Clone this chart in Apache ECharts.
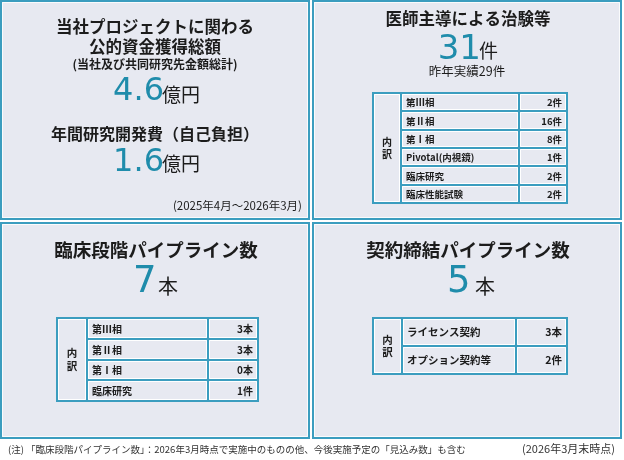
<!DOCTYPE html>
<html><head><meta charset="utf-8">
<script src="https://cdn.jsdelivr.net/npm/echarts@6/dist/echarts.min.js"></script>
<style>html,body{margin:0;padding:0;background:#fff}#c{width:624px;height:460px}</style>
</head><body><div id="c"></div>
<script>
// ---- data ----
const publicFunding = 4.6;            // 億円
const selfFundedRnD = 1.6;            // 億円
const periodLabel = '(2025年4月～2026年3月)';
const iitTotal = 31;                  // 件
const iitPrevYear = 29;               // 件
const iitCategories = ['第Ⅲ相', '第Ⅱ相', '第Ⅰ相', 'Pivotal(内視鏡)', '臨床研究', '臨床性能試験'];
const iitCounts = [2, 16, 8, 1, 2, 2];
const iitUnits = ['件', '件', '件', '件', '件', '件'];
const clinicalTotal = 7;              // 本
const clinicalCategories = ['第Ⅲ相', '第Ⅱ相', '第Ⅰ相', '臨床研究'];
const clinicalCounts = [3, 3, 0, 1];
const clinicalUnits = ['本', '本', '本', '件'];
const contractTotal = 5;              // 本
const contractCategories = ['ライセンス契約', 'オプション契約等'];
const contractCounts = [3, 2];
const contractUnits = ['本', '件'];
const footnote = '(注) 「臨床段階パイプライン数」：2026年3月時点で実施中のものの他、今後実施予定の「見込み数」も含む';
const asOfLabel = '(2026年3月末時点)';

// ---- styling ----
const TEAL = '#3b9dbf';
const NUM = '#1f8cab';
const PANEL = '#e7e9f1';
const INK = '#1c1c1c';
const FONT = "'Noto Sans CJK JP', 'Noto Sans CJK SC', sans-serif";
const NUMFONT = "'DejaVu Sans', sans-serif";

function txt(x, y, text, size, o) {
  o = o || {};
  return {
    type: 'text', x: x, y: y, z: 10, silent: true,
    style: {
      text: text, fontSize: size, fontFamily: o.family || FONT,
      fontWeight: o.weight || 'normal', fill: o.fill || INK,
      align: o.align || 'center', verticalAlign: 'middle',
      lineHeight: o.lineHeight
    }
  };
}
function panel(x, y, w, h) {
  return [
    { type: 'rect', z: 0, silent: true, shape: { x: x, y: y, width: w, height: h },
      style: { fill: PANEL, stroke: TEAL, lineWidth: 2 } },
    { type: 'rect', z: 1, silent: true, shape: { x: x + 1.5, y: y + 1.5, width: w - 3, height: h - 3 },
      style: { fill: 'none', stroke: '#ffffff', lineWidth: 1, opacity: 0.8 } }
  ];
}
function whiteCell(x, y, w, h) {
  return { type: 'rect', z: 3, silent: true,
    shape: { x: x + 1.5, y: y + 1.5, width: w - 3, height: h - 3 },
    style: { fill: 'none', stroke: '#ffffff', lineWidth: 1 } };
}
function table(x, top, wHead, wLabel, wValue, rowH, labels, counts, units, fs, headFs) {
  const els = [];
  const n = labels.length, h = rowH * n, W = wHead + wLabel + wValue;
  els.push({ type: 'rect', z: 2, silent: true, shape: { x: x, y: top, width: W, height: h },
    style: { fill: 'none', stroke: TEAL, lineWidth: 2 } });
  [x + wHead, x + wHead + wLabel].forEach(function (vx) {
    els.push({ type: 'line', z: 2, silent: true, shape: { x1: vx, y1: top, x2: vx, y2: top + h },
      style: { stroke: TEAL, lineWidth: 2 } });
  });
  for (let i = 1; i < n; i++) {
    const yy = top + Math.round(i * rowH);
    els.push({ type: 'line', z: 2, silent: true, shape: { x1: x + wHead, y1: yy, x2: x + W, y2: yy },
      style: { stroke: TEAL, lineWidth: 2 } });
  }
  els.push(whiteCell(x, top, wHead, h));
  for (let i = 0; i < n; i++) {
    const y0 = top + Math.round(i * rowH), y1 = top + Math.round((i + 1) * rowH);
    els.push(whiteCell(x + wHead, y0, wLabel, y1 - y0));
    els.push(whiteCell(x + wHead + wLabel, y0, wValue, y1 - y0));
    const cy = (y0 + y1) / 2 + 0.5;
    els.push(txt(x + wHead + 5, cy, labels[i], fs, { weight: 'bold', align: 'left' }));
    els.push(txt(x + W - 5, cy, counts[i] + units[i], fs, { weight: 'bold', align: 'right' }));
  }
  els.push(txt(x + wHead / 2, top + h / 2, '内\n訳', headFs, { weight: 'bold', lineHeight: headFs + 2 }));
  return els;
}

let g = [];
g = g.concat(panel(1, 1, 308, 218), panel(313, 1, 308, 218), panel(1, 223, 308, 215), panel(313, 223, 308, 215));

// top-left
g.push(txt(155, 27, '当社プロジェクトに関わる', 16.5, { weight: 'bold' }));
g.push(txt(155, 47, '公的資金獲得総額', 16.5, { weight: 'bold' }));
g.push(txt(155, 64, '(当社及び共同研究先金額総計)', 12, { weight: 'bold' }));
g.push(txt(164, 91.5, publicFunding.toFixed(1), 32, { family: NUMFONT, fill: NUM, align: 'right' }));
g.push(txt(162, 94.5, '億円', 19, { align: 'left' }));
g.push(txt(155, 133.5, '年間研究開発費（自己負担）', 16, { weight: 'bold' }));
g.push(txt(164, 163, selfFundedRnD.toFixed(1), 32, { family: NUMFONT, fill: NUM, align: 'right' }));
g.push(txt(162, 163.5, '億円', 19, { align: 'left' }));
g.push(txt(302, 206, periodLabel, 11.5, { align: 'right' }));

// top-right
g.push(txt(468, 19, '医師主導による治験等', 16.5, { weight: 'bold' }));
g.push(txt(481, 50, String(iitTotal), 34, { family: NUMFONT, fill: NUM, align: 'right' }));
g.push(txt(479, 51, '件', 19, { align: 'left' }));
g.push(txt(467, 71, '昨年実績' + iitPrevYear + '件', 12.5));
g = g.concat(table(373, 93, 28, 118, 48, 110 / 6, iitCategories, iitCounts, iitUnits, 9.5, 10));

// bottom-left
g.push(txt(156, 250, '臨床段階パイプライン数', 18.5, { weight: 'bold' }));
g.push(txt(133, 282, String(clinicalTotal), 37, { family: NUMFONT, fill: NUM, align: 'left' }));
g.push(txt(158, 286.5, '本', 20, { align: 'left' }));
g = g.concat(table(57, 318, 30, 121, 50, 83 / 4, clinicalCategories, clinicalCounts, clinicalUnits, 10, 10.5));

// bottom-right
g.push(txt(468, 250, '契約締結パイプライン数', 18.5, { weight: 'bold' }));
g.push(txt(447, 282, String(contractTotal), 37, { family: NUMFONT, fill: NUM, align: 'left' }));
g.push(txt(475, 286.5, '本', 20, { align: 'left' }));
g = g.concat(table(373, 318, 29, 114, 51, 28, contractCategories, contractCounts, contractUnits, 10.5, 10.5));

// footnotes
g.push(txt(8, 449, footnote, 9.5, { align: 'left', fill: '#333' }));
g.push(txt(615, 449, asOfLabel, 11, { align: 'right', fill: '#333' }));

const chart = echarts.init(document.getElementById('c'), null, { renderer: 'canvas' });
chart.setOption({ animation: false, backgroundColor: '#ffffff', graphic: { elements: g } });
</script></body></html>
